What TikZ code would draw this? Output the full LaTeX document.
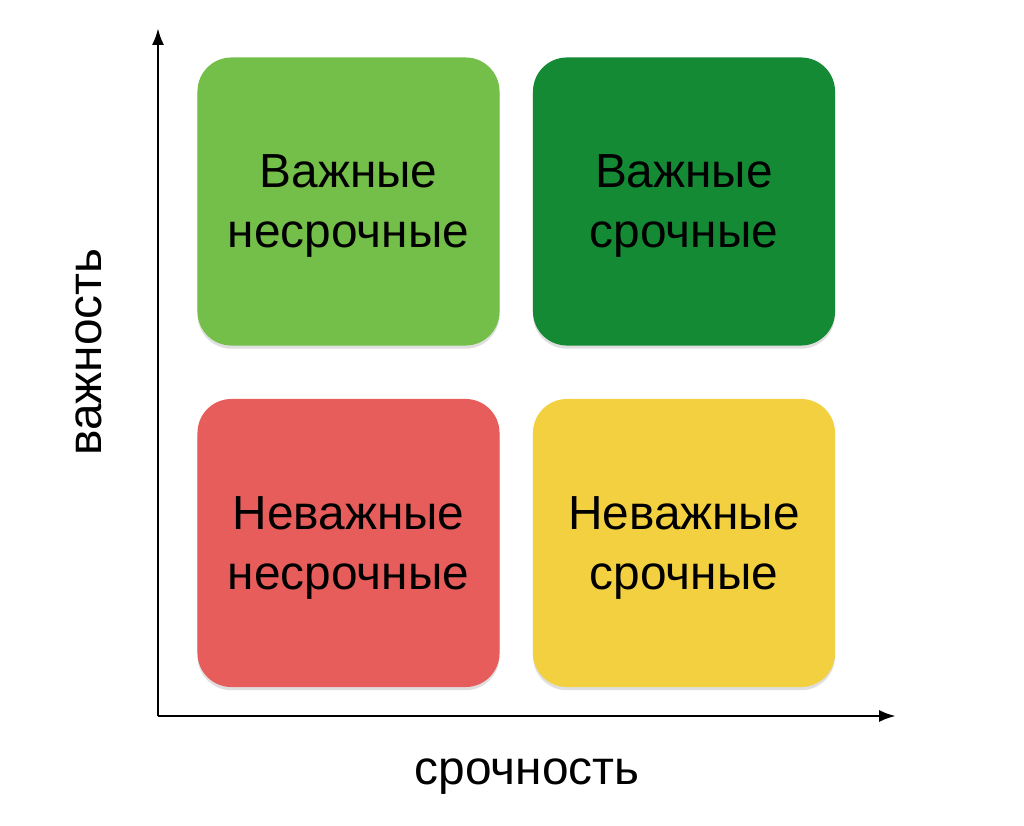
\documentclass[tikz,border=0pt]{standalone}
\usepackage{fontspec}
\setmainfont{Liberation Sans}
\usepackage{xcolor}
\usetikzlibrary{positioning,shadows,arrows.meta}

\definecolor{lightgreen}{HTML}{74BE4A}
\definecolor{darkgreen}{HTML}{148A35}
\definecolor{softred}{HTML}{E65D5B}
\definecolor{warmyellow}{HTML}{F2D03F}

\begin{document}
\begin{tikzpicture}
    [x=0.025cm, y=-0.025cm,
      quad/.style={rounded corners=0.85cm, minimum width=7.55cm, minimum height=7.2cm,
        align=center, text depth=-2.5pt, font=\fontsize{34}{42.7}\selectfont,
        drop shadow={shadow xshift=0pt, shadow yshift=-0.08cm, opacity=0.25}},
      axis/.style={line width=2pt, -{Latex[length=0.42cm, width=0.3cm]}},
      axislabel/.style={font=\fontsize{34}{40}\selectfont}]
    \useasboundingbox (0,0) rectangle (1024,826);

    % quadrants
    \node[quad, fill=lightgreen] (impnot) at (348.5,201.5) {Важные\\несрочные};
    \node[quad, fill=darkgreen] (impurg) at (684,201.5) {Важные\\срочные};
    \node[quad, fill=softred] (notnot) at (348.5,543) {Неважные\\несрочные};
    \node[quad, fill=warmyellow] (noturg) at (684,543) {Неважные\\срочные};

    % axes
    \coordinate (origin) at (158,716);
    \coordinate (ytop) at (158,28);
    \coordinate (xend) at (896,716);
    \draw[axis] (origin) -- (ytop);
    \draw[axis] (origin) -- (xend);

    \node[axislabel, rotate=90] (ylabel) at (89,352) {важность};
    \node[axislabel] (xlabel) at (527,777) {срочность};
  \end{tikzpicture}
\end{document}
